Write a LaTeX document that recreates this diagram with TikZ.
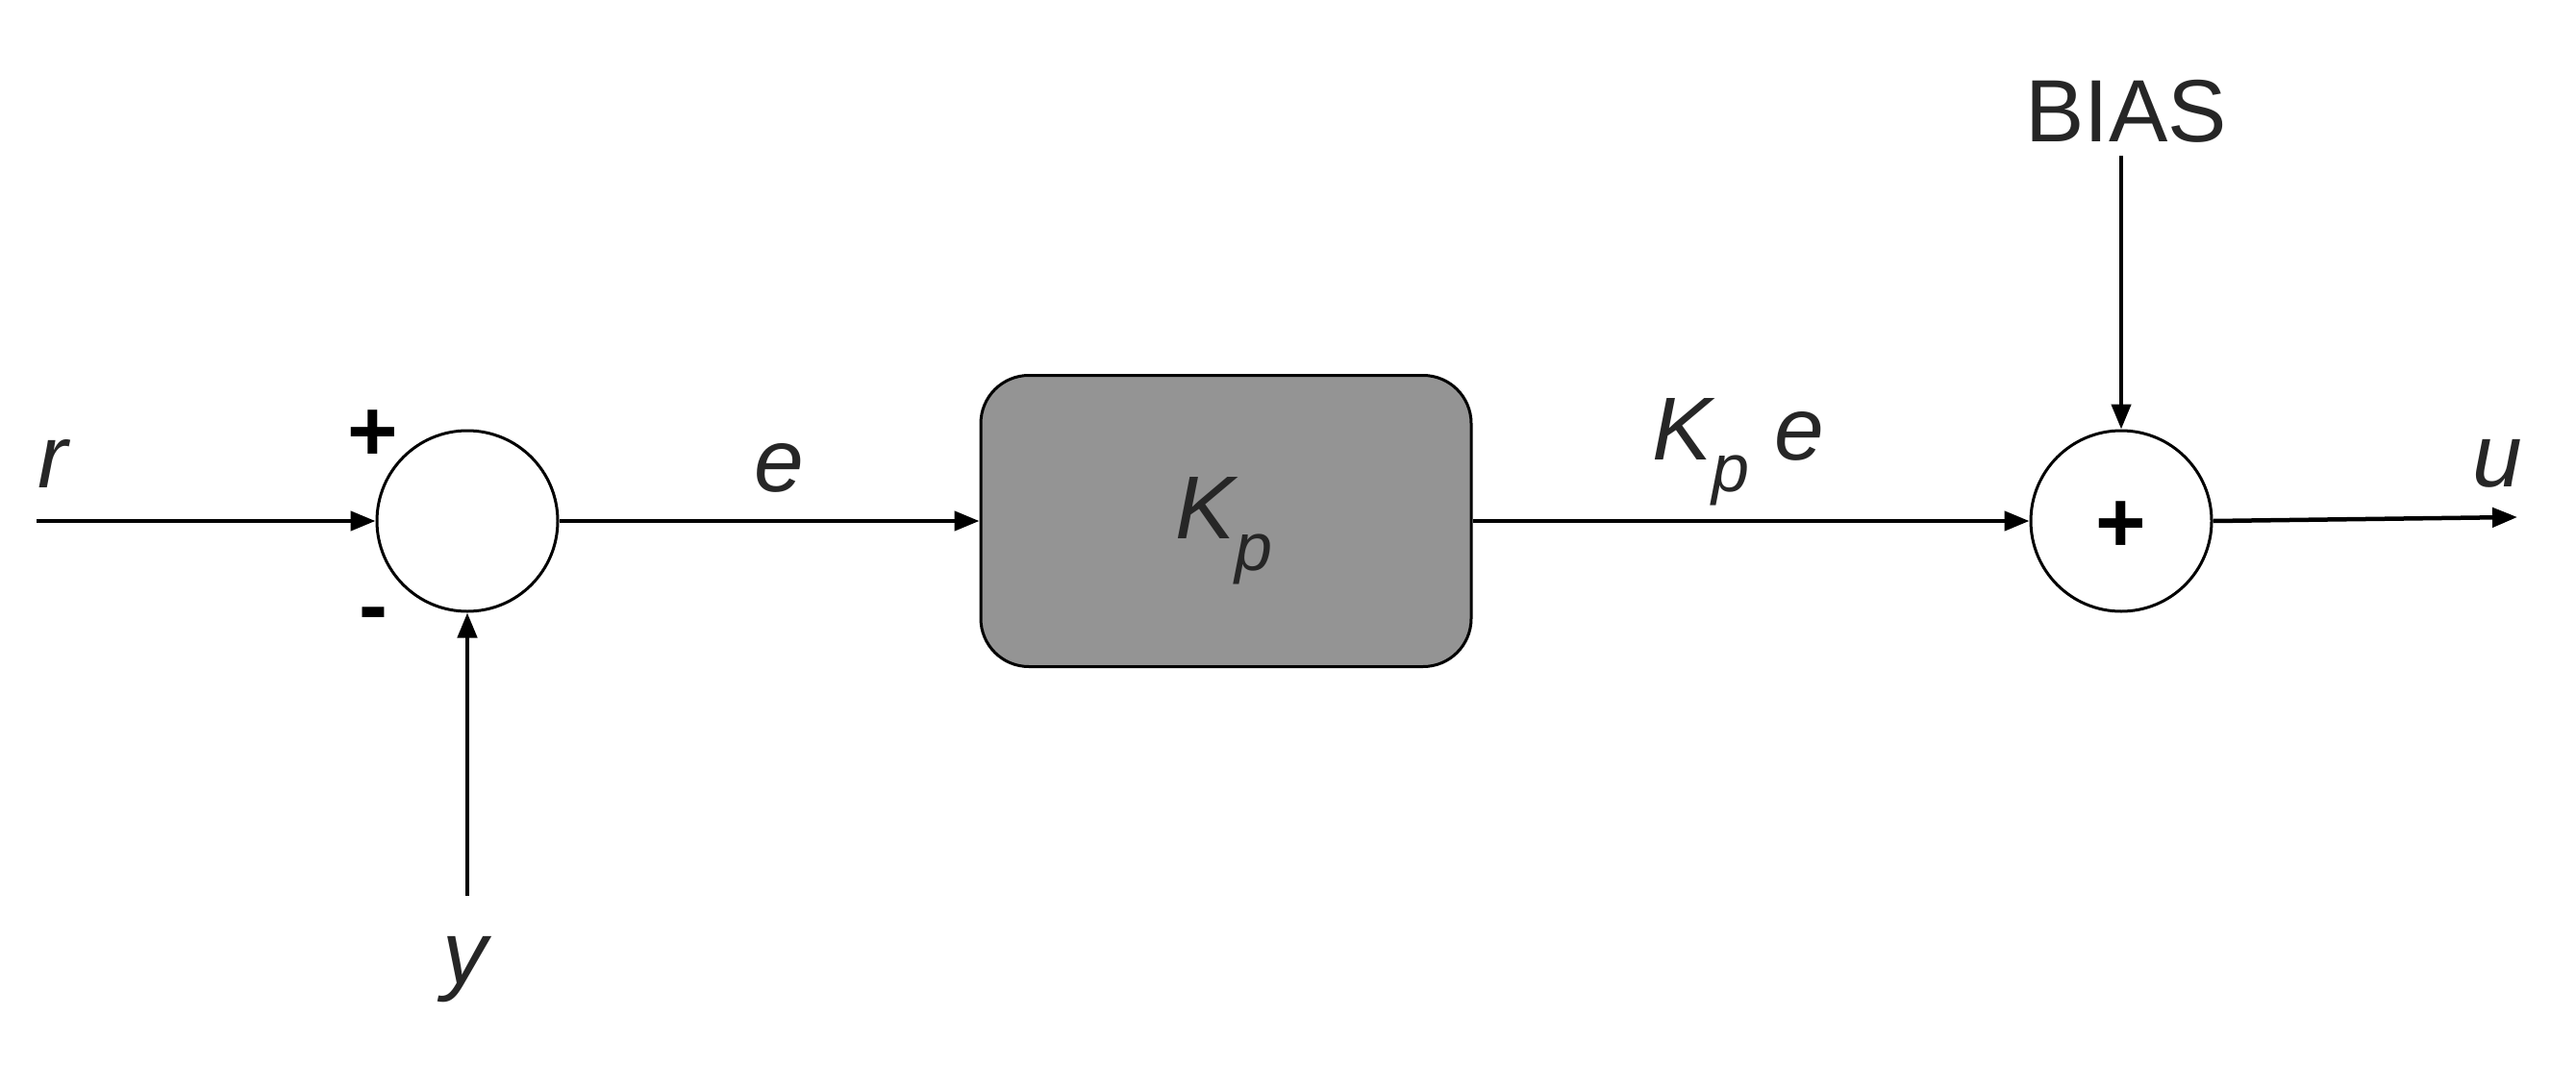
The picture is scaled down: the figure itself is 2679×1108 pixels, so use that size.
\documentclass[tikz,border=0pt]{standalone}
\usepackage{fontspec}
\setmainfont{Liberation Sans}
\usetikzlibrary{arrows.meta}
\begin{document}
\begin{tikzpicture}[x=1pt,y=-1pt,
  lbl/.style={font=\fontsize{93}{100}\selectfont\itshape, text=black!85, inner sep=0},
  sgn/.style={font=\fontsize{90}{100}\selectfont\bfseries, inner sep=0},
  sumc/.style={circle, draw, line width=3pt, minimum size=188pt, inner sep=0},
  sig/.style={line width=4.5pt, -{Triangle[length=26pt,width=20pt]}}]
\useasboundingbox (0,0) rectangle (2679,1108);
\node[sumc] (s1) at (486,542) {};
\node[sumc] (s2) at (2206,542) {};
\node[sgn] at (2206,548) {+};
\node[draw, line width=3pt, fill=black!42, rounded corners=50pt, minimum width=510pt, minimum height=303pt] (kp) at (1275,542) {};
\node[lbl] at (1273,552) {K\raisebox{-0.35em}{\fontsize{70}{80}\selectfont p}};
\coordinate (rin) at (38,542);
\coordinate (yin) at (486,932);
\coordinate (bias) at (2206,162);
\coordinate (uout) at (2618,538);
\draw[sig] (rin) -- (s1.west);
\draw[sig] (yin) -- (s1.south);
\draw[sig] (s1.east) -- (kp.west);
\draw[sig] (kp.east) -- (s2.west);
\draw[sig] (bias) -- (s2.north);
\draw[sig] (s2.east) -- (uout);
\node[lbl] at (55,482) {r};
\node[lbl] at (484,1009) {y};
\node[lbl] at (810,487) {e};
\node[lbl] at (1808,470) {K\raisebox{-0.35em}{\fontsize{70}{80}\selectfont p} e};
\node[lbl] at (2597,482) {u};
\node[font=\fontsize{92}{100}\selectfont, text=black!85, inner sep=0] at (2211,116) {BIAS};
\node[sgn] at (388,453) {+};
\node[sgn] at (388,646) {-};
\end{tikzpicture}
\end{document}
